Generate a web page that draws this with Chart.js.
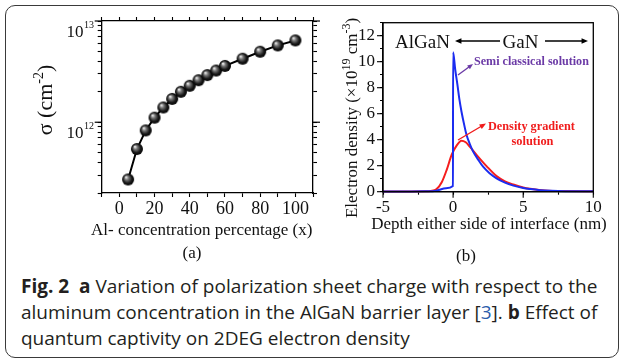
<!DOCTYPE html>
<html>
<head>
<meta charset="utf-8">
<script src="https://cdn.jsdelivr.net/npm/chart.js@4.4.1/dist/chart.umd.min.js"></script>
<style>
  html, body { margin: 0; padding: 0; background: #fff; }
  #page { position: relative; width: 624px; height: 364px; overflow: hidden; }
  #card { position: absolute; left: 5px; top: 5px; width: 614px; height: 353px; box-sizing: border-box;
          border: 1.3px solid #3a3a3a; border-radius: 10px; }
  #left { position: absolute; left: 0; top: 0; }
  #right { position: absolute; left: 320px; top: 0; }
  #caption { position: absolute; left: 21px; top: 272.6px; font-family: "Open Sans"; font-size: 19px;
             line-height: 26px; color: #231f20; white-space: nowrap; transform-origin: 0 0; }
  #caption .ln { width: max-content; }
  #caption b { font-weight: 700; }
</style>
</head>
<body>
<div id="page">
  <div id="card"></div>
  <canvas id="left" width="320" height="270"></canvas>
  <canvas id="right" width="304" height="270"></canvas>
  <div id="caption">
    <div class="ln"><b>Fig. 2</b>&nbsp; <b>a</b> Variation of polarization sheet charge with respect to the</div>
    <div class="ln">aluminum concentration in the AlGaN barrier layer [<span style="color:#2b5cab">3</span>]. <b>b</b> Effect of</div>
    <div class="ln">quantum captivity on 2DEG electron density</div>
  </div>
</div>
<script>
// (a) polarization sheet charge vs Al percentage
const alPercent = [5, 10, 15, 20, 25, 30, 35, 40, 45, 50, 55, 60, 70, 80, 90, 100];
const sigmaValues = [2.72e11, 5.44e11, 8.3e11, 1.11e12, 1.40e12, 1.70e12, 2.0e12, 2.29e12,
                     2.6e12, 2.92e12, 3.24e12, 3.6e12, 4.24e12, 4.97e12, 5.74e12, 6.43e12];
const sigmaTicks = [2e11, 3e11, 4e11, 5e11, 6e11, 7e11, 8e11, 9e11,
                    1e12, 2e12, 3e12, 4e12, 5e12, 6e12, 7e12, 8e12, 9e12, 1e13];
const sigmaLabels = [1e12, 1e13];

// (b) electron density vs depth
const semiDepth = [-5, -3, -2, -1.2, -0.5, -0.01, 0, 0.15, 0.3, 0.45, 0.6, 0.8, 0.95, 1.2, 1.43,
                   1.8, 2.14, 2.6, 3.1, 3.7, 4.3, 5, 5.5, 6.2, 7, 8, 10];
const semiDensity = [0.02, 0.02, 0.03, 0.08, 0.27, 0.44, 10.72, 9.4, 8.3, 7.1, 6.15, 5.1, 4.4, 3.65, 3.08,
                     2.45, 1.92, 1.42, 1.03, 0.7, 0.47, 0.28, 0.2, 0.12, 0.07, 0.04, 0.03];
const dgDepth = [-5, -3, -2, -1.6, -1.2, -0.8, -0.45, -0.1, 0.25, 0.6, 0.9, 1.2, 1.7, 2.4,
                 3.1, 3.7, 4.3, 5, 5.5, 6.5, 8, 10];
const dgDensity = [0.02, 0.02, 0.03, 0.06, 0.18, 0.75, 1.7, 2.85, 3.55, 3.92, 3.8, 3.45, 2.8, 1.95,
                   1.2, 0.8, 0.55, 0.32, 0.22, 0.1, 0.05, 0.04];

const SERIF = '"Liberation Serif", "DejaVu Serif", serif';

function makeBall(r) {
  const c = document.createElement('canvas');
  c.width = c.height = r * 2 + 2;
  const g = c.getContext('2d');
  const m = r + 1;
  const grad = g.createRadialGradient(m - r * 0.35, m - r * 0.4, r * 0.05, m, m, r);
  grad.addColorStop(0, '#f2f2f2');
  grad.addColorStop(0.3, '#7a7a7a');
  grad.addColorStop(0.7, '#1a1a1a');
  grad.addColorStop(1, '#000');
  g.fillStyle = grad;
  g.beginPath();
  g.arc(m, m, r, 0, Math.PI * 2);
  g.fill();
  return c;
}

function seg(ctx, x1, y1, x2, y2) {
  ctx.beginPath();
  ctx.moveTo(x1, y1);
  ctx.lineTo(x2, y2);
  ctx.stroke();
}

function arrow(ctx, x1, y1, x2, y2, color, head) {
  const ang = Math.atan2(y2 - y1, x2 - x1);
  ctx.strokeStyle = color;
  ctx.fillStyle = color;
  ctx.lineWidth = 1.4;
  seg(ctx, x1, y1, x2 - Math.cos(ang) * head * 0.7, y2 - Math.sin(ang) * head * 0.7);
  ctx.beginPath();
  ctx.moveTo(x2, y2);
  ctx.lineTo(x2 - head * Math.cos(ang - 0.4), y2 - head * Math.sin(ang - 0.4));
  ctx.lineTo(x2 - head * Math.cos(ang + 0.4), y2 - head * Math.sin(ang + 0.4));
  ctx.closePath();
  ctx.fill();
}

// parts: [[text, isSup], ...]; draws centred on (cx, baseline y)
function richText(ctx, parts, cx, y, size, supSize, rise) {
  let total = 0;
  const widths = parts.map(([t, sup]) => {
    ctx.font = `${sup ? supSize : size}px ${SERIF}`;
    const w = ctx.measureText(t).width;
    total += w;
    return w;
  });
  let x = cx - total / 2;
  ctx.textAlign = 'left';
  ctx.textBaseline = 'alphabetic';
  parts.forEach(([t, sup], i) => {
    ctx.font = `${sup ? supSize : size}px ${SERIF}`;
    ctx.fillText(t, x, sup ? y - rise : y);
    x += widths[i];
  });
}

function fitText(ctx, text, x, y, width, weight, align) {
  ctx.font = `${weight} 12px ${SERIF}`;
  const size = 12 * width / ctx.measureText(text).width;
  ctx.font = `${weight} ${size}px ${SERIF}`;
  ctx.textAlign = align;
  ctx.textBaseline = 'middle';
  ctx.fillText(text, x, y);
}

const axisCommon = {
  border: { color: '#000', width: 1.3 },
  grid: { drawOnChartArea: false, color: '#000', tickColor: '#000', tickLength: 4, tickWidth: 1.1 }
};

const leftDecor = {
  id: 'leftDecor',
  afterDraw(chart) {
    const { ctx, chartArea: a, scales } = chart;
    ctx.save();
    ctx.strokeStyle = '#000';
    ctx.lineWidth = 1.2;
    ctx.fillStyle = '#111';
    sigmaLabels.forEach(v => {
      const y = scales.y.getPixelForValue(v);
      seg(ctx, a.left - 7, y, a.left, y);
      seg(ctx, a.right, y, a.right + 7, y);
      const exp = String(Math.round(Math.log10(v)));
      ctx.textAlign = 'left';
      ctx.textBaseline = 'alphabetic';
      ctx.font = `10px ${SERIF}`;
      const ew = ctx.measureText(exp).width;
      ctx.fillText(exp, 94 - ew, y + 6.5);
      ctx.font = `17px ${SERIF}`;
      const bw = ctx.measureText('10').width;
      ctx.fillText('10', 94 - ew - bw - 0.5, y + 15.5);
    });
    // x title and panel label
    ctx.font = `17px ${SERIF}`;
    ctx.textAlign = 'center';
    ctx.fillText('Al- concentration percentage (x)', 201.7, 235);
    ctx.fillText('(a)', 192, 257.5);
    // y title
    ctx.translate(52, 100);
    ctx.rotate(-Math.PI / 2);
    richText(ctx, [['\u03c3 (cm', false], ['-2', true], [')', false]], 0, 0, 22, 14, 9);
    ctx.restore();
  }
};

const rightDecor = {
  id: 'rightDecor',
  afterDraw(chart) {
    const { ctx, chartArea: a, scales } = chart;
    ctx.save();
    ctx.strokeStyle = '#000';
    ctx.lineWidth = 1.3;
    ctx.strokeRect(a.left, a.top, a.right - a.left, a.bottom - a.top);
    // longer major ticks
    ctx.lineWidth = 1.1;
    [0, 2, 4, 6, 8, 10, 12].forEach(v => {
      const y = scales.y.getPixelForValue(v);
      seg(ctx, a.left - 6, y, a.left, y);
    });
    [-5, 0, 5, 10].forEach(v => {
      const x = scales.x.getPixelForValue(v);
      seg(ctx, x, a.bottom, x, a.bottom + 6);
    });
    ctx.fillStyle = '#111';
    ctx.font = `17px ${SERIF}`;
    ctx.textAlign = 'center';
    ctx.textBaseline = 'alphabetic';
    ctx.fillText('Depth either side of interface (nm)', 169, 228.5);
    ctx.fillText('(b)', 146, 261);
    // region labels
    ctx.font = `19px ${SERIF}`;
    ctx.textAlign = 'left';
    ctx.fillText('AlGaN', 75, 48.3);
    ctx.fillText('GaN', 182.5, 48.3);
    arrow(ctx, 180, 41, 135, 41, '#000', 7);
    arrow(ctx, 225, 41, 268, 41, '#000', 7);
    // curve labels
    ctx.fillStyle = '#6b3aa6';
    fitText(ctx, 'Semi classical solution', 154, 62, 115, 'bold', 'left');
    arrow(ctx, 138, 75, 153, 64, '#6b3aa6', 6);
    ctx.fillStyle = '#f01c1c';
    fitText(ctx, 'Density gradient', 168, 127, 87, 'bold', 'left');
    fitText(ctx, 'solution', 212.5, 141.7, 42, 'bold', 'center');
    arrow(ctx, 138, 140, 166, 123.5, '#f01c1c', 7);
    // y title
    ctx.fillStyle = '#111';
    ctx.translate(37, 118);
    ctx.rotate(-Math.PI / 2);
    richText(ctx, [['Electron density (\u00d710', false], ['19', true], [' cm', false], ['-3', true], [')', false]],
             0, 0, 17, 12, 7);
    ctx.restore();
  }
};

new Chart(document.getElementById('left'), {
  type: 'line',
  data: {
    datasets: [{
      data: alPercent.map((x, i) => ({ x, y: sigmaValues[i] })),
      borderColor: '#000',
      borderWidth: 2,
      pointStyle: makeBall(6),
      pointRadius: 6,
      tension: 0
    }]
  },
  options: {
    responsive: false,
    animation: false,
    events: [],
    layout: { autoPadding: false, padding: 0 },
    plugins: { legend: { display: false }, tooltip: { enabled: false } },
    scales: {
      x: {
        ...axisCommon, type: 'linear', position: 'bottom', min: -10, max: 110,
        ticks: { stepSize: 10, autoSkip: false, maxRotation: 0, padding: 1, color: '#111',
                 font: { family: SERIF, size: 18 },
                 callback: v => (v >= 0 && v <= 100 && v % 20 === 0) ? String(v) : '' },
        afterFit: s => { s.height = 77; }
      },
      x2: {
        ...axisCommon, type: 'linear', position: 'top', min: -10, max: 110,
        ticks: { stepSize: 10, display: false },
        afterFit: s => { s.height = 21; }
      },
      y: {
        ...axisCommon, type: 'logarithmic', position: 'left', min: 2e11, max: 1e13,
        ticks: { display: true, callback: () => '', font: { size: 1 } },
        afterBuildTicks: s => { s.ticks = sigmaTicks.map(value => ({ value })); },
        afterFit: s => { s.width = 101.7; }
      },
      y2: {
        ...axisCommon, type: 'logarithmic', position: 'right', min: 2e11, max: 1e13,
        ticks: { display: false },
        afterBuildTicks: s => { s.ticks = sigmaTicks.map(value => ({ value })); },
        afterFit: s => { s.width = 7; }
      }
    }
  },
  plugins: [leftDecor]
});

new Chart(document.getElementById('right'), {
  type: 'line',
  data: {
    datasets: [
      {
        label: 'Semi classical solution',
        data: semiDepth.map((x, i) => ({ x, y: semiDensity[i] })),
        borderColor: '#1b2cf0',
        borderWidth: 2,
        pointRadius: 0,
        cubicInterpolationMode: 'monotone',
        clip: 4
      },
      {
        label: 'Density gradient solution',
        data: dgDepth.map((x, i) => ({ x, y: dgDensity[i] })),
        borderColor: '#f51e1e',
        borderWidth: 2,
        pointRadius: 0,
        cubicInterpolationMode: 'monotone',
        clip: 4
      }
    ]
  },
  options: {
    responsive: false,
    animation: false,
    events: [],
    layout: { autoPadding: false, padding: { top: 22.7, right: 30.7, left: 0, bottom: 0 } },
    plugins: { legend: { display: false }, tooltip: { enabled: false } },
    scales: {
      x: {
        ...axisCommon, type: 'linear', min: -5, max: 10,
        grid: { ...axisCommon.grid, tickLength: 3 },
        ticks: { stepSize: 2.5, autoSkip: false, maxRotation: 0, padding: 3, color: '#111',
                 font: { family: SERIF, size: 17 },
                 callback: v => v % 5 === 0 ? String(v) : '' },
        afterFit: s => { s.height = 78.3; }
      },
      y: {
        ...axisCommon, type: 'linear', min: 0, max: 13,
        grid: { ...axisCommon.grid, tickLength: 3 },
        ticks: { stepSize: 1, autoSkip: false, padding: 5, color: '#111',
                 font: { family: SERIF, size: 17 },
                 callback: v => (v % 2 === 0 && v <= 12) ? String(v) : '' },
        afterFit: s => { s.width = 63; }
      }
    }
  },
  plugins: [rightDecor]
});

function fitCaption() {
  const cap = document.getElementById('caption');
  const w = cap.querySelector('.ln').getBoundingClientRect().width;
  if (w > 0) cap.style.transform = `scaleX(${555 / w})`;
}
fitCaption();
document.fonts.ready.then(fitCaption);
</script>
</body>
</html>
